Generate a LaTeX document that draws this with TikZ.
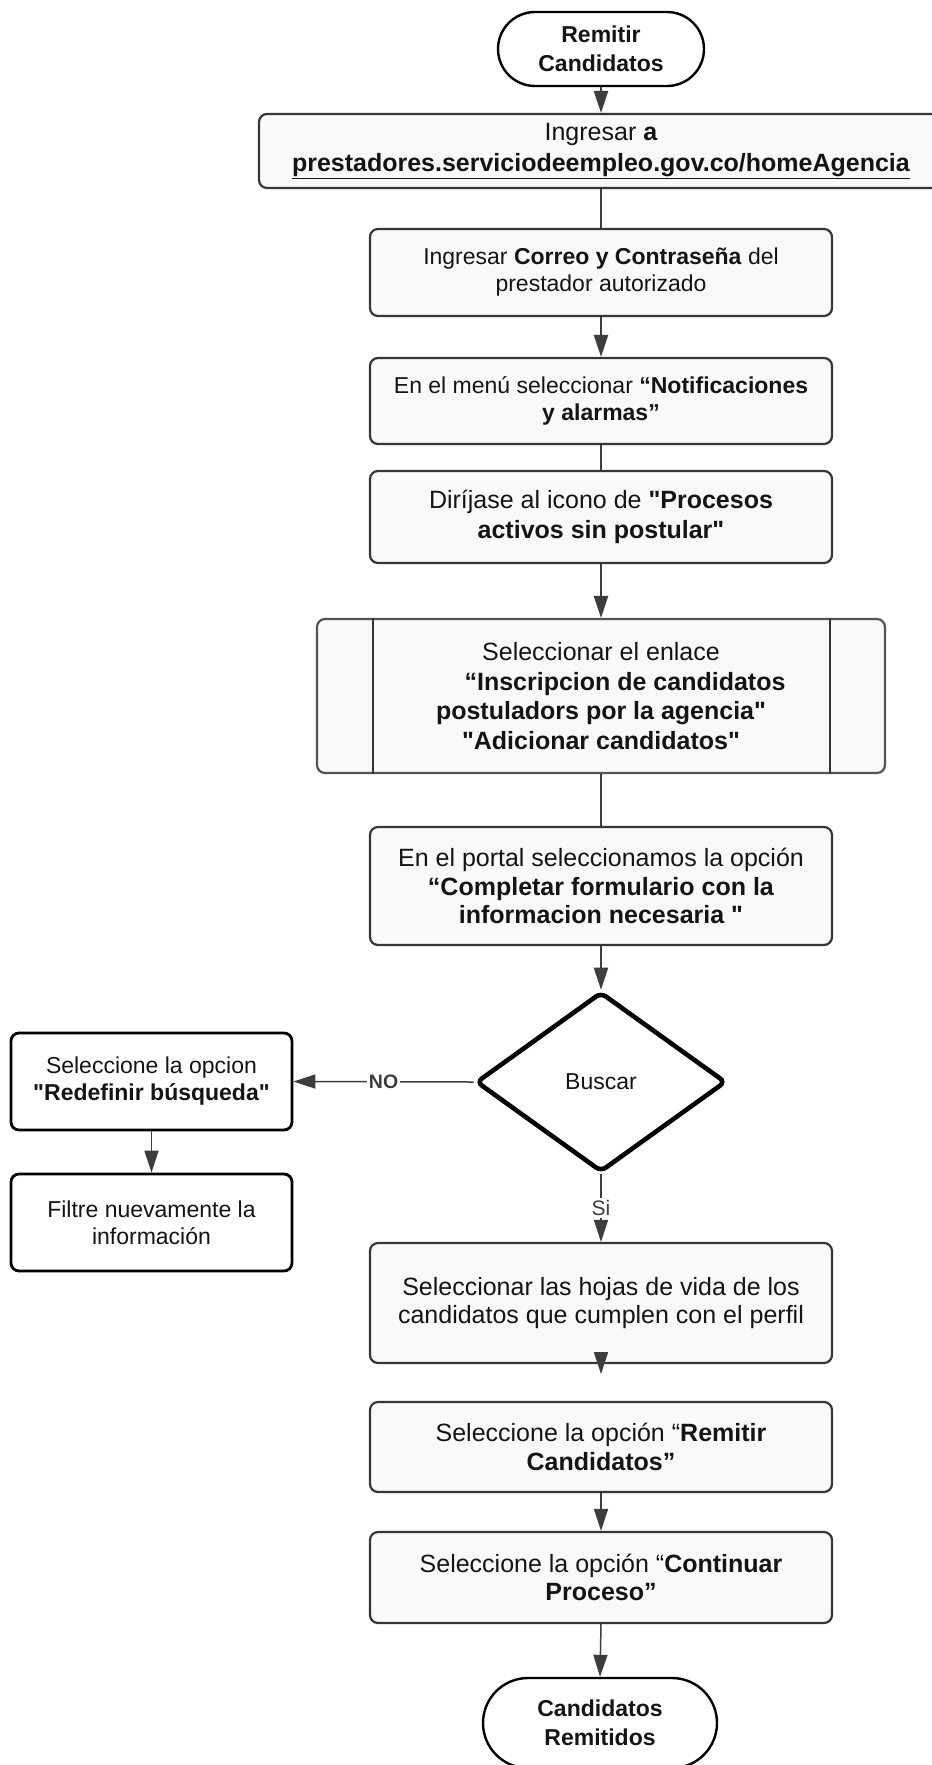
\documentclass[tikz,border=0pt]{standalone}
\usepackage{fontspec}
\setmainfont{Liberation Sans}[Ligatures=TeXOff]
\usetikzlibrary{arrows.meta,shapes.geometric}
\definecolor{boxline}{HTML}{363636}
\definecolor{boxfill}{HTML}{F9F9F9}
\definecolor{linecol}{HTML}{3D3D3D}
\definecolor{inktext}{HTML}{141414}
\newcommand\setfs[2]{\fontsize{#1}{#2}\selectfont}
\begin{document}
\begin{tikzpicture}[x=1pt,y=-1pt,
  every node/.style={inner sep=0pt, align=center, text=inktext},
  stepbox/.style={draw=boxline, line width=2.2pt, fill=boxfill, rounded corners=8pt,
    minimum width=462pt},
  sidebox/.style={draw=black, line width=2.8pt, fill=white, rounded corners=8pt,
    minimum width=281pt, minimum height=97pt, font={\setfs{23}{27}}},
  term/.style={draw=black, line width=2.4pt, fill=white, font={\setfs{23}{28.5}\bfseries}},
  decision/.style={shape=diamond, draw=black, line width=4.6pt, fill=white,
    rounded corners=6pt, minimum width=250pt, minimum height=180pt, font={\setfs{23}{27}}},
  link/.style={draw=linecol, line width=2.2pt},
  thinlink/.style={draw=linecol, line width=1.5pt},
  arr/.style={link, -{Triangle[length=22pt,width=14pt]}},
  thinarr/.style={thinlink, -{Triangle[length=22pt,width=14pt]}},
  edgelabel/.style={fill=white, inner sep=2pt},
]
\useasboundingbox (0,0) rectangle (932,1765);

% main column
\node[term, rounded corners=37pt, minimum width=206pt, minimum height=74pt] (start) at (601,49)
  {Remitir\\Candidatos};
\node[stepbox, minimum width=684pt, minimum height=74pt, font={\setfs{25}{31}}] (b1) at (601,151)
  {Ingresar \textbf{a}\\\underline{\textbf{prestadores.serviciodeempleo.gov.co/homeAgencia}}};
\node[stepbox, minimum height=87pt, font={\setfs{23}{27}}] (b2) at (601,272.5)
  {Ingresar \textbf{Correo y Contraseña} del\\prestador autorizado};
\node[stepbox, minimum height=86pt, font={\setfs{23}{27}}] (b3) at (601,401)
  {En el menú seleccionar \textbf{“Notificaciones}\\\textbf{y alarmas”}};
\node[stepbox, minimum height=92pt, font={\setfs{25}{30}}] (b4) at (601,517)
  {Diríjase al icono de \textbf{"Procesos}\\\textbf{activos sin postular"}};
\node[stepbox, draw=boxline!85, minimum width=568pt, minimum height=154pt, font={\setfs{25}{29.5}}] (b5) at (601,696)
  {Seleccionar el enlace\\\hspace*{48pt}\textbf{“Inscripcion de candidatos}\\\textbf{postuladors por la agencia"}\\\textbf{"Adicionar candidatos"}};
\draw[draw=boxline, line width=2pt] ([xshift=57pt]b5.north west) -- ([xshift=57pt]b5.south west);
\draw[draw=boxline, line width=2pt] ([xshift=-56pt]b5.north east) -- ([xshift=-56pt]b5.south east);
\node[stepbox, minimum height=118pt, font={\setfs{25}{28.5}}] (b6) at (601,886)
  {En el portal seleccionamos la opción\\\textbf{“Completar formulario con la}\\\textbf{informacion necesaria "}};
\node[decision] (dec) at (601,1082) {Buscar};

% side branch
\node[sidebox] (b7) at (151.5,1081.5) {Seleccione la opcion\\\textbf{"Redefinir búsqueda"}};
\node[sidebox] (b8) at (151.5,1222.5) {Filtre nuevamente la\\información};

% lower column
\node[stepbox, minimum height=120pt, font={\setfs{25}{28}}] (b9) at (601,1303)
  {Seleccionar las hojas de vida de los\\candidatos que cumplen con el perfil};
\node[stepbox, minimum height=90pt, font={\setfs{25}{29}}] (b10) at (601,1447)
  {Seleccione la opción “\textbf{Remitir}\\\textbf{Candidatos”}};
\node[stepbox, minimum height=91pt, font={\setfs{25}{28.5}}] (b11) at (601,1577.5)
  {Seleccione la opción “\textbf{Continuar}\\\textbf{Proceso”}};
\node[term, rounded corners=45pt, minimum width=234pt, minimum height=90pt] (finish) at (600,1723)
  {Candidatos\\Remitidos};

% connectors
\draw[arr] (start) -- (b1);
\draw[link] (b1) -- (b2);
\draw[arr] (b2) -- (b3);
\draw[link] (b3) -- (b4);
\draw[arr] (b4) -- (b5);
\draw[link] (b5) -- (b6);
\draw[arr] (b6) -- (dec);
\draw[thinarr] (dec.west) -- node[edgelabel, font={\setfs{19.5}{22}\bfseries}, text=linecol] {NO} (b7.east);
\draw[thinarr] (b7) -- (b8);
\draw[thinarr] (dec.south) -- node[edgelabel, font={\setfs{21}{24}}, text=linecol] {Si} (b9.north);
\draw[thinarr] ([yshift=12pt]b9.south) -- ([yshift=-10pt]b9.south);
\draw[thinarr] (b10) -- (b11);
\draw[thinarr] (b11.south) -- (finish.north);
\end{tikzpicture}
\end{document}
